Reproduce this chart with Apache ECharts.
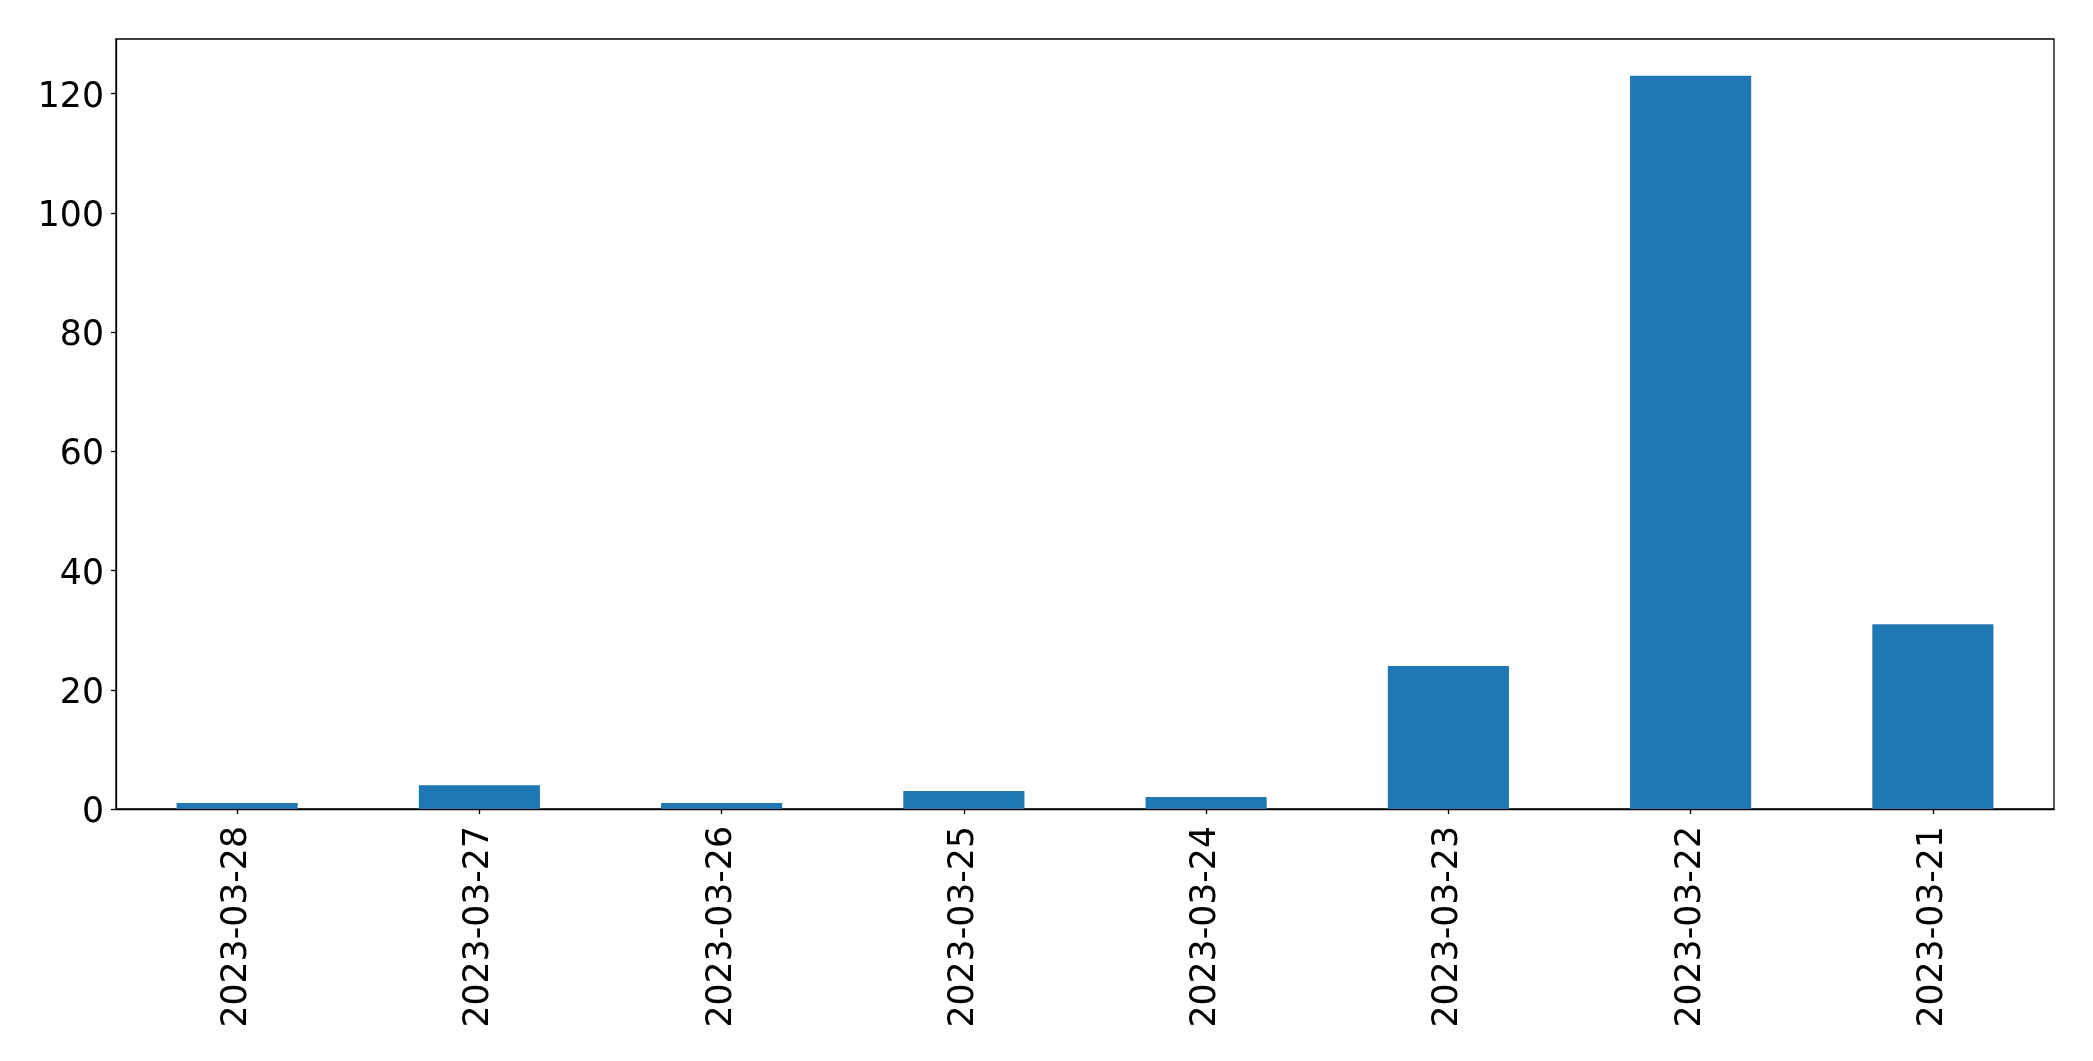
<!DOCTYPE html>
<html>
<head>
<meta charset="utf-8">
<script src="https://cdn.jsdelivr.net/npm/echarts@6/dist/echarts.min.js"></script>
<style>
html,body{margin:0;padding:0;background:#fff;}
#chart{width:2093px;height:1061px;}
</style>
</head>
<body>
<div id="chart"></div>
<script>
const categories = ['2023-03-28','2023-03-27','2023-03-26','2023-03-25','2023-03-24','2023-03-23','2023-03-22','2023-03-21'];
const values = [1, 4, 1, 3, 2, 24, 123, 31];
const yTicks = [0, 20, 40, 60, 80, 100, 120];

const chart = echarts.init(document.getElementById('chart'), null, {renderer: 'canvas'});
const font = 'DejaVu Sans';
chart.setOption({
  animation: false,
  backgroundColor: '#ffffff',
  grid: {left: 116, top: 39, width: 1938, height: 770, show: true, borderColor: '#000', borderWidth: 1.3, containLabel: false},
  xAxis: {
    type: 'category',
    data: categories,
    boundaryGap: true,
    axisLine: {show: true, lineStyle: {color: '#000', width: 1.3}},
    axisTick: {show: true, alignWithLabel: true, length: 5, lineStyle: {color: '#000', width: 1.3}},
    axisLabel: {rotate: 90, margin: 17, color: '#000', fontFamily: font, fontSize: 34.7, interval: 0}
  },
  yAxis: {
    type: 'value',
    min: 0,
    max: 129.15,
    interval: 20,
    splitLine: {show: false},
    axisLine: {show: true, lineStyle: {color: '#000', width: 1.3}},
    axisTick: {show: true, length: 5, customValues: yTicks, lineStyle: {color: '#000', width: 1.3}},
    axisLabel: {color: '#000', fontFamily: font, fontSize: 34.7, margin: 12, customValues: yTicks,
      formatter: function(v){ return yTicks.indexOf(v) >= 0 ? '{s| }\n{a|' + v + '}' : ''; },
      rich: {
        s: {fontSize: 1, lineHeight: 8},
        a: {fontSize: 34.7, lineHeight: 40, fontFamily: font, color: '#000'}
      }}
  },
  series: [{
    type: 'bar',
    data: values,
    barWidth: '50%',
    itemStyle: {color: '#1f77b4'}
  }]
});
</script>
</body>
</html>
